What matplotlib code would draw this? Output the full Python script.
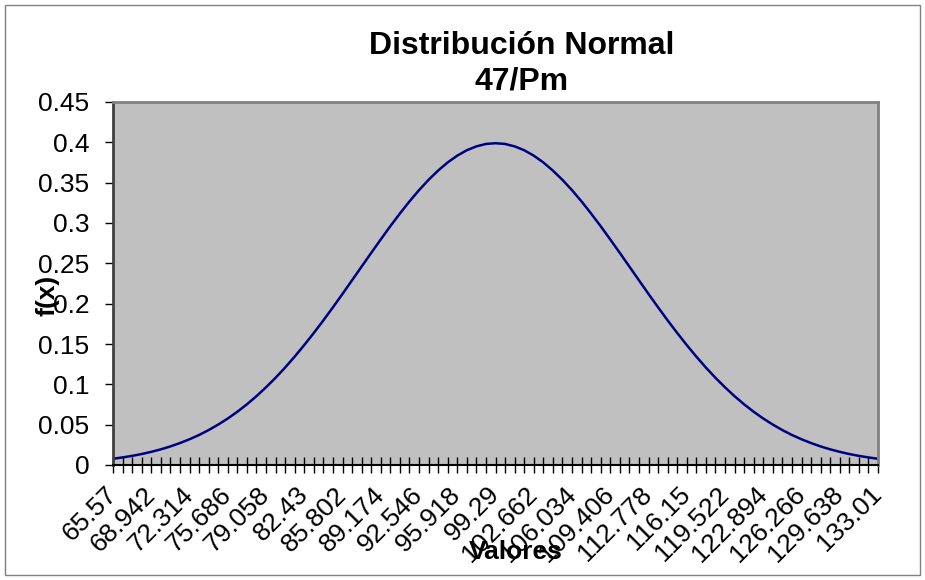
import matplotlib.pyplot as plt
from matplotlib.patches import Rectangle

plt.rcParams['font.family'] = ['Liberation Sans', 'DejaVu Sans']

# f(x), one value per category (81 categories)
fx = [0.0077, 0.0094, 0.0113, 0.0136, 0.0163, 0.0194, 0.0230, 0.0272, 0.0319, 0.0372,
      0.0433, 0.0501, 0.0576, 0.0660, 0.0752, 0.0853, 0.0963, 0.1081, 0.1208, 0.1344,
      0.1487, 0.1637, 0.1793, 0.1955, 0.2121, 0.2290, 0.2460, 0.2629, 0.2796, 0.2960,
      0.3117, 0.3267, 0.3407, 0.3535, 0.3650, 0.3751, 0.3835, 0.3902, 0.3950, 0.3980,
      0.3989,
      0.3980, 0.3950, 0.3902, 0.3835, 0.3751, 0.3650, 0.3535, 0.3407, 0.3267, 0.3117,
      0.2960, 0.2796, 0.2629, 0.2460, 0.2290, 0.2121, 0.1955, 0.1793, 0.1637, 0.1487,
      0.1344, 0.1208, 0.1081, 0.0963, 0.0853, 0.0752, 0.0660, 0.0576, 0.0501, 0.0433,
      0.0372, 0.0319, 0.0272, 0.0230, 0.0194, 0.0163, 0.0136, 0.0113, 0.0094, 0.0077]

# category labels shown on the axis (every 4th category)
x_labels = ['65.57', '68.942', '72.314', '75.686', '79.058', '82.43', '85.802',
            '89.174', '92.546', '95.918', '99.29', '102.662', '106.034', '109.406',
            '112.778', '116.15', '119.522', '122.894', '126.266', '129.638', '133.01']
label_every = 4

y_ticks = [0, 0.05, 0.1, 0.15, 0.2, 0.25, 0.3, 0.35, 0.4, 0.45]
y_labels = ['0', '0.05', '0.1', '0.15', '0.2', '0.25', '0.3', '0.35', '0.4', '0.45']

fig = plt.figure(figsize=(9.25, 5.8), dpi=100)
ax = fig.add_axes([113/925, 1-465/580, (878-113)/925, (465-102)/580])

# outer chart border
fig.patches.append(Rectangle((5/925, 5/580), 915/925, 570/580, transform=fig.transFigure,
                             fill=False, edgecolor='#808080', linewidth=1))

ax.set_facecolor('#c0c0c0')
ax.plot(range(len(fx)), fx, color='#000080', linewidth=1.8)

ax.set_xlim(0, len(fx) - 1)
ax.set_ylim(0, 0.45)

ax.set_xticks(range(0, len(fx), label_every))
ax.set_xticklabels(x_labels, rotation=45, ha='right', va='center', rotation_mode='anchor')
ax.set_xticks(range(len(fx)), minor=True)
ax.tick_params(axis='x', which='both', direction='inout', length=11, width=1, color='black',
               labelsize=19, pad=13)
ax.set_yticks(y_ticks)
ax.set_yticklabels(y_labels)
ax.tick_params(axis='y', direction='out', length=6, width=1, color='black', labelsize=19, pad=11)

for side in ['top', 'right', 'left']:
    ax.spines[side].set_color('#808080')
    ax.spines[side].set_linewidth(2)
ax.spines['left'].set_color('#404040')
ax.spines['bottom'].set_color('black')
ax.spines['bottom'].set_linewidth(1.5)

fig.text(522/925, 1-64/580, 'Distribución Normal\n47/Pm', ha='center', va='center',
         fontsize=23, fontweight='bold', linespacing=1.25)
fig.text(48/925, 1-295/580, 'f(x)', rotation=90, ha='center', va='center',
         fontsize=19, fontweight='bold')
fig.text(516/925, 1-552/580, 'Valores', ha='center', va='center',
         fontsize=19, fontweight='bold')

plt.savefig('out.png', dpi=100)
